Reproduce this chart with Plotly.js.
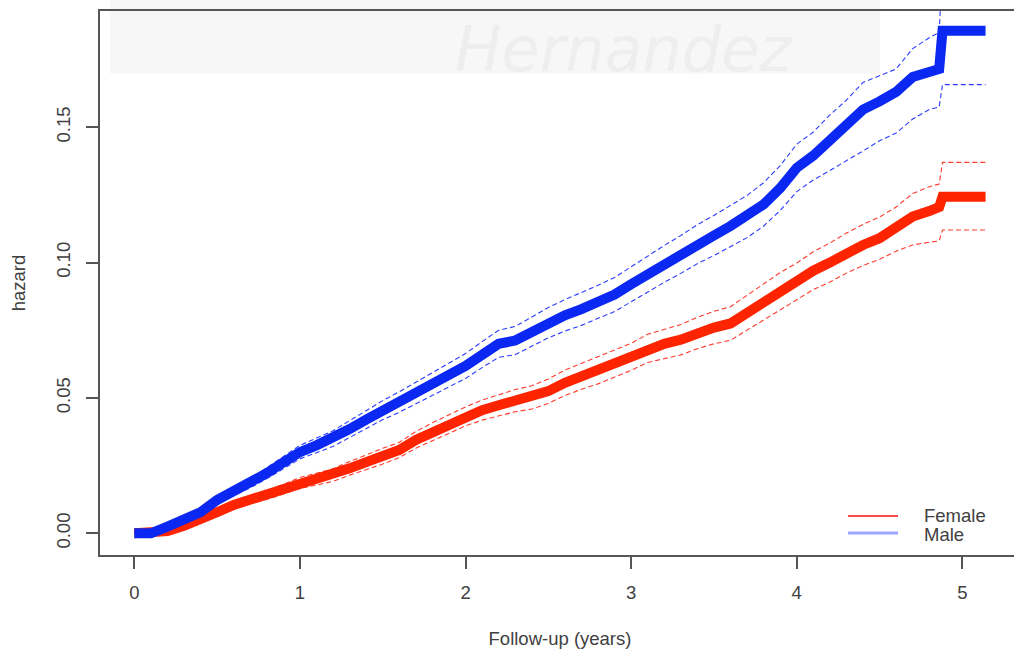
<!DOCTYPE html>
<html>
<head>
<meta charset="utf-8">
<script src="https://cdn.plot.ly/plotly-3.0.1.min.js"></script>
<style>html,body{margin:0;padding:0;overflow:hidden;background:#fff;}#chart{width:1020px;height:654px;}</style>
</head>
<body>
<div id="chart"></div>
<script>
// Follow-up time (years)
const followUp = [0,0.1,0.2,0.3,0.4,0.5,0.6,0.7,0.8,0.9,1.0,1.1,1.2,1.3,1.4,1.5,1.6,1.7,1.8,1.9,2.0,2.1,2.2,2.3,2.4,2.5,2.6,2.7,2.8,2.9,3.0,3.1,3.2,3.3,3.4,3.5,3.6,3.7,3.8,3.9,4.0,4.1,4.2,4.3,4.4,4.5,4.6,4.7,4.8,4.86,4.88,5.14];

// Cumulative hazard, Male
const maleHaz = [0,0,0.0025,0.005,0.0078,0.0123,0.0153,0.0185,0.0222,0.0262,0.030,0.0325,0.035,0.0385,0.042,0.0455,0.0485,0.0518,0.055,0.0585,0.0618,0.066,0.0700,0.0712,0.0745,0.0778,0.0805,0.0828,0.0855,0.0882,0.092,0.0958,0.0995,0.103,0.1068,0.1100,0.1135,0.117,0.1215,0.1275,0.1350,0.1395,0.1455,0.151,0.1565,0.1595,0.163,0.1685,0.1708,0.1715,0.1856,0.1856];
const maleLow = [0,0,0.0015,0.0042,0.0068,0.011,0.0138,0.0168,0.0202,0.024,0.0275,0.0298,0.0321,0.0354,0.0387,0.042,0.0447,0.0478,0.0508,0.0541,0.0572,0.0612,0.065,0.066,0.0691,0.0722,0.0747,0.0768,0.0794,0.0819,0.0855,0.0892,0.0927,0.096,0.0996,0.1026,0.1059,0.1092,0.1135,0.1192,0.1262,0.1305,0.134,0.1375,0.1412,0.145,0.1478,0.153,0.1565,0.1575,0.1657,0.1657];
const maleHigh = [0,0,0.0035,0.0058,0.0088,0.0136,0.0168,0.0202,0.0242,0.0284,0.0325,0.0352,0.0379,0.0416,0.0453,0.049,0.0523,0.0558,0.0592,0.0629,0.0664,0.0708,0.075,0.0764,0.0799,0.0834,0.0863,0.0888,0.0916,0.0945,0.0985,0.1024,0.1063,0.11,0.114,0.1174,0.1211,0.1248,0.1295,0.1358,0.1437,0.1482,0.1545,0.160,0.1665,0.169,0.1715,0.179,0.183,0.185,0.21,0.21];

// Cumulative hazard, Female
const femaleHaz = [0,0,0.0008,0.0028,0.0049,0.0078,0.0105,0.0123,0.0141,0.0163,0.0186,0.0200,0.0215,0.024,0.0263,0.0285,0.0308,0.0345,0.0375,0.0405,0.0432,0.0455,0.0473,0.049,0.0502,0.0525,0.0556,0.058,0.0602,0.0627,0.0652,0.0683,0.0700,0.0715,0.0740,0.0760,0.0775,0.0815,0.0855,0.0895,0.0930,0.0970,0.1000,0.1035,0.1065,0.1090,0.1125,0.1170,0.1190,0.1205,0.1243,0.1243];
const femaleLow = [0,0,0.0002,0.002,0.0041,0.0068,0.0093,0.0109,0.0125,0.0145,0.0166,0.0178,0.0192,0.0215,0.0236,0.0256,0.028,0.0314,0.0342,0.0371,0.0397,0.0418,0.0434,0.0449,0.0459,0.048,0.0509,0.0532,0.0552,0.0576,0.0602,0.0631,0.0646,0.0659,0.0682,0.0700,0.0713,0.0751,0.0789,0.0827,0.0862,0.090,0.0928,0.0961,0.0989,0.1012,0.1042,0.1065,0.1075,0.108,0.112,0.112];
const femaleHigh = [0,0,0.0014,0.0036,0.0057,0.0088,0.0117,0.0137,0.0157,0.0181,0.0206,0.0222,0.0238,0.0265,0.029,0.0314,0.0336,0.0376,0.0408,0.0439,0.0467,0.0492,0.0512,0.0531,0.0545,0.057,0.0603,0.0628,0.0652,0.0678,0.0702,0.0735,0.0754,0.0771,0.0798,0.082,0.0837,0.0879,0.0921,0.0963,0.0998,0.104,0.1072,0.1109,0.1141,0.1168,0.1205,0.1255,0.128,0.129,0.137,0.137];

const xTicks = [0,1,2,3,4,5];
const yTicks = [0,0.05,0.10,0.15];
const yTickLabels = ["0.00","0.05","0.10","0.15"];
const legendLabels = ["Female","Male"];

const RED = '#ff2400', BLUE = '#0a28f2';
const ciDash = '5px,3px';

function ci(y, color){
  return {x: followUp, y: y, type:'scatter', mode:'lines', line:{color:color, width:1.1, dash:ciDash}, hoverinfo:'skip', showlegend:false};
}
const traces = [
  ci(femaleLow, '#ff3a2a'), ci(femaleHigh, '#ff3a2a'),
  ci(maleLow, '#2a3cff'), ci(maleHigh, '#2a3cff'),
  {x: followUp, y: femaleHaz, type:'scatter', mode:'lines', name:'Female', line:{color:RED, width:10}, showlegend:false},
  {x: followUp, y: maleHaz, type:'scatter', mode:'lines', name:'Male', line:{color:BLUE, width:10}, showlegend:false}
];

const fontFam = 'Liberation Sans, Arial, sans-serif';
const FS = 18.5, TC = '#404040';
const layout = {
  width: 1020, height: 654,
  margin: {l:100, r:0, t:11, b:99, pad:0},
  paper_bgcolor:'#fff', plot_bgcolor:'#fff',
  font: {family: fontFam, size: FS, color:TC},
  showlegend:false,
  xaxis: {
    range:[-0.207, 5.348], tickvals:xTicks, ticktext:xTicks.map(String),
    showgrid:false, zeroline:false, showline:true, mirror:true, linecolor:'#555', linewidth:2,
    ticks:'outside', ticklen:12, tickwidth:2, tickcolor:'#555', ticklabelstandoff:8,
    tickfont:{size:FS, color:TC},
    title:{text:'Follow-up (years)', font:{size:FS, color:TC}, standoff:30}
  },
  yaxis: {
    range:[-0.0080, 0.1929], tickvals:yTicks, ticktext:yTickLabels, tickangle:-90,
    showgrid:false, zeroline:false, showline:true, mirror:true, linecolor:'#555', linewidth:2,
    ticks:'outside', ticklen:12, tickwidth:2, tickcolor:'#555', ticklabelstandoff:9,
    tickfont:{size:FS, color:TC},
    title:{text:'hazard', font:{size:FS, color:TC}, standoff:22}
  },
  shapes: [
    {type:'rect', xref:'paper', yref:'paper', x0:0.011, x1:0.848, y0:0.885, y1:1.03, fillcolor:'#f7f7f7', line:{width:0}, layer:'below'},
    {type:'line', xref:'paper', yref:'paper', x0:0.813, x1:0.8674, y0:0.0717, y1:0.0717, line:{color:'#ff4a4a', width:2}},
    {type:'line', xref:'paper', yref:'paper', x0:0.813, x1:0.8674, y0:0.0404, y1:0.0404, line:{color:'#9ea6ff', width:3}}
  ],
  annotations: [
    {xref:'paper', yref:'paper', x:0.57, y:1.0, xanchor:'center', yanchor:'top', showarrow:false, text:'<i>Hernandez</i>', font:{family:'DejaVu Sans, sans-serif', size:62, color:'#eeeeee'}},
    {xref:'paper', yref:'paper', x:0.8931, y:0.0735, xanchor:'left', yanchor:'middle', showarrow:false, text:legendLabels[0], font:{size:FS, color:TC}},
    {xref:'paper', yref:'paper', x:0.8931, y:0.0386, xanchor:'left', yanchor:'middle', showarrow:false, text:legendLabels[1], font:{size:FS, color:TC}}
  ]
};
Plotly.newPlot('chart', traces, layout, {displayModeBar:false, staticPlot:true});
</script>
</body>
</html>
